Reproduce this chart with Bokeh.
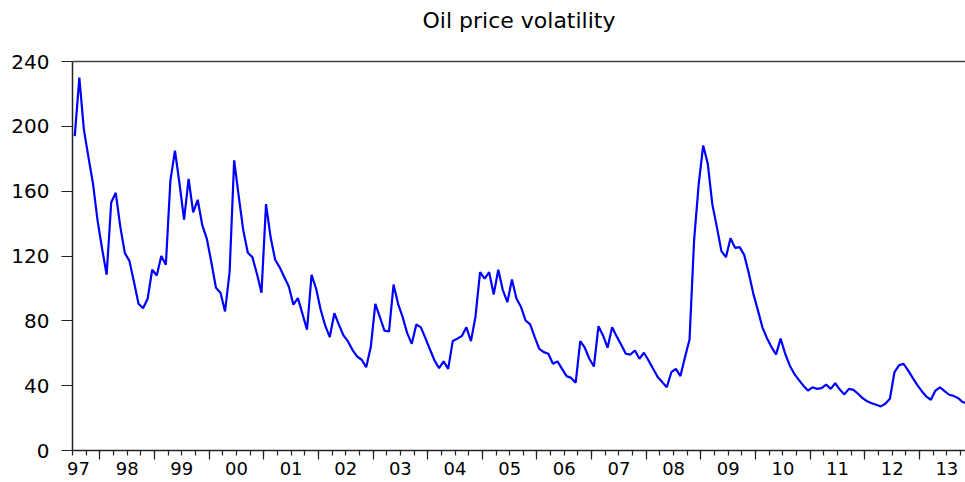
from bokeh.plotting import figure
from bokeh.models import LinearAxis, FixedTicker, Range1d
from bokeh.embed import file_html
from bokeh.resources import INLINE

# Monthly series, first observation 1997M7
start_year = 1997
start_month = 7
volatility = [
    194, 230, 198, 181, 164.6, 142, 124.5, 108.4, 153, 159,
    138, 121.8, 117, 104, 90.5, 87.8, 93.6, 111.5, 108, 120,
    114.6, 166.6, 185, 164.6, 142.5, 167.6, 146.9, 154.7, 139, 130.6,
    116, 100.4, 97.3, 85.8, 110, 179, 157, 135.8, 122, 119.3,
    109, 97.3, 152, 131.7, 117.7, 113, 107, 101.2, 90, 94,
    84.3, 74.5, 108.4, 99.8, 86.8, 77, 70, 84.7, 77.7, 71,
    67.3, 62, 58, 56, 51.4, 63.8, 90.5, 82.3, 74, 73.4,
    102.4, 90.5, 82.3, 72.4, 65.8, 77.8, 76, 69.3, 62.3, 55.5,
    50.8, 55, 50.4, 67.5, 69, 70.6, 76, 67.5, 82.7, 110,
    106, 110, 96.3, 111.5, 99, 91.5, 105.5, 93.6, 88.5, 80.2,
    77.8, 70, 62.7, 60.7, 59.7, 53.5, 55, 50.4, 45.9, 44.8,
    41.8, 67.5, 63.4, 56.6, 51.8, 76.7, 71, 63.4, 76, 70.4,
    65.2, 59.7, 59.2, 61.7, 56.6, 60.3, 55.5, 50.4, 45.3, 42.2,
    39, 48.3, 50.4, 45.9, 57.6, 68.5, 129.6, 164, 188.2, 177,
    152, 137.8, 123, 119.3, 131, 125, 125.5, 120.7, 109.5, 96.8,
    86.6, 76, 69.3, 63.8, 59.2, 69, 59.7, 52.5, 47.3, 43.6,
    40, 37, 39, 38, 38.5, 40.7, 38, 41.5, 37.6, 34.6,
    38, 37.4, 35, 32.3, 30.4, 29.2, 28.2, 27.2, 28.8, 31.9,
    48.3, 52.5, 53.5, 49.4, 44.8, 40.5, 36.6, 33.3, 31.3, 37,
    39, 36.6, 34.4, 33.7, 32.3, 29.8, 29.4,
]
year_labels = ["97", "98", "99", "00", "01", "02", "03", "04", "05",
               "06", "07", "08", "09", "10", "11", "12", "13"]
y_ticks = [0, 40, 80, 120, 160, 200, 240]
title_text = "Oil price volatility"

# x coordinate = month index (observation centred on its month)
x = list(range(len(volatility)))
offset = 12 - start_month + 1          # months until January of next year
year_bounds = [offset - 0.5 + 12 * j for j in range(len(year_labels) - 1)]
quarters = [-0.5 + 3 * i for i in range(70)]
label_pos = [0.8] + [offset + 5.5 + 12 * j for j in range(len(year_labels) - 1)]

FONT = "DejaVu Sans"

p = figure(width=965, height=482, output_backend="svg", toolbar_location=None,
           x_range=Range1d(-0.5, 195.6), y_range=Range1d(0, 240),
           x_axis_location=None, min_border_left=72, min_border_right=0,
           min_border_top=61, min_border_bottom=32)
p.grid.visible = False
p.outline_line_color = None
p.background_fill_color = "white"
p.border_fill_color = "white"
p.title.visible = False

ya = p.yaxis[0]
ya.ticker = FixedTicker(ticks=y_ticks)
ya.major_tick_out = 11
ya.major_tick_in = 0
ya.minor_tick_out = 0
ya.minor_tick_in = 0
ya.axis_line_width = 1.5
ya.axis_line_color = "#222222"
ya.major_tick_line_color = "#222222"
ya.major_tick_line_width = 1.2
ya.major_label_text_font = FONT
ya.major_label_text_font_size = "20px"
ya.major_label_text_color = "black"
ya.major_label_standoff = 12

ax_ticks = LinearAxis(ticker=FixedTicker(ticks=year_bounds, minor_ticks=quarters),
                      major_tick_out=9, major_tick_in=0, minor_tick_out=5, minor_tick_in=0,
                      major_label_text_font_size="1px", major_label_text_color=None,
                      major_label_standoff=0,
                      axis_line_width=1.5, axis_line_color="#222222",
                      major_tick_line_color="#222222", minor_tick_line_color="#222222",
                      major_tick_line_width=1.2, minor_tick_line_width=1.2)
p.add_layout(ax_ticks, "below")

ax_labels = LinearAxis(ticker=FixedTicker(ticks=label_pos, minor_ticks=[]),
                       major_label_overrides={pos: lab for pos, lab in zip(label_pos, year_labels)},
                       axis_line_color=None, major_tick_line_color=None,
                       minor_tick_line_color=None, major_tick_out=0, major_tick_in=0,
                       minor_tick_out=0, minor_tick_in=0,
                       major_label_standoff=2, major_label_text_font=FONT,
                       major_label_text_font_size="18px", major_label_text_color="black")
p.add_layout(ax_labels, "below")

# top border line, carrying the chart title as its axis label
ax_top = LinearAxis(ticker=FixedTicker(ticks=[], minor_ticks=[]),
                    major_tick_out=0, major_tick_in=0, minor_tick_out=0, minor_tick_in=0,
                    major_label_text_font_size="1px", major_label_text_color=None,
                    major_label_standoff=0,
                    axis_line_width=1.5, axis_line_color="#444444",
                    axis_label=title_text, axis_label_standoff=29,
                    axis_label_text_font=FONT, axis_label_text_font_size="22px",
                    axis_label_text_font_style="normal", axis_label_text_color="black")
p.add_layout(ax_top, "above")

p.line(x, volatility, line_color="#0000FF", line_width=2.2)

open("out.html", "w").write(file_html(p, INLINE))
